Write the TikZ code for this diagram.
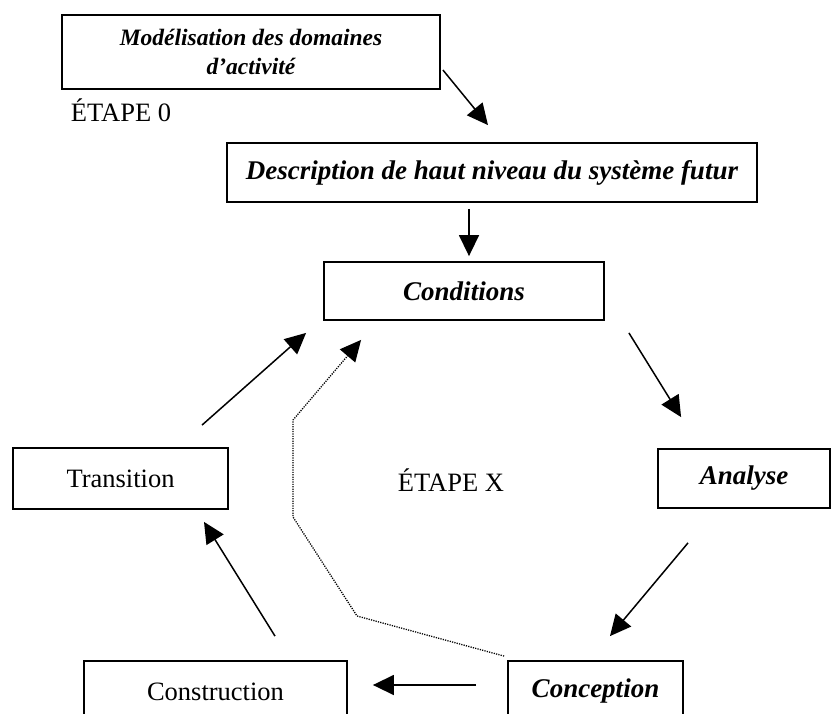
\documentclass[tikz,border=0pt]{standalone}
\usepackage{fontspec}
\setmainfont{Liberation Serif}
\usetikzlibrary{arrows.meta}
\tikzset{
  box/.style={draw, line width=1.8pt, rectangle, inner sep=0pt, align=center},
  bi/.style={font=\fontsize{27}{31}\selectfont\bfseries\itshape},
  rg/.style={font=\fontsize{26.5}{30}\selectfont},
  arr/.style={line width=1.5pt, -{Triangle[length=21pt,width=20pt]}},
  dotarr/.style={line width=1.3pt, dash pattern=on 1.2pt off 1.2pt, -{Triangle[length=21pt,width=20pt]}},
}
\begin{document}
\begin{tikzpicture}[x=1pt,y=-1pt]
\useasboundingbox (0,0) rectangle (833,714);
\begin{scope}
\clip (0,0) rectangle (833,714);
\node[box, minimum width=378pt, minimum height=74pt, font=\fontsize{23.5}{29}\selectfont\bfseries\itshape] (mod) at (251,52) {Modélisation des domaines\\d’activité};
\node[rg, anchor=center] (e0) at (121,110) {ÉTAPE 0};
\node[box, bi, minimum width=530pt, minimum height=59pt] (desc) at (492,172.5) {Description de haut niveau du système futur};
\node[box, bi, minimum width=280pt, minimum height=58pt] (cond) at (464,291) {Conditions};
\node[box, bi, minimum width=172pt, minimum height=59pt] (ana) at (744,478.5) {Analyse};
\node[box, rg, minimum width=215pt, minimum height=61pt] (trans) at (120.5,478.5) {Transition};
\node[box, rg, minimum width=263pt, minimum height=61pt] (constr) at (215.5,691.5) {Construction};
\node[box, bi, minimum width=175pt, minimum height=61pt] (concep) at (595.5,691.5) {Conception};
\node[rg] (ex) at (451,480) {ÉTAPE X};

\draw[arr] ([shift={(2,18)}]mod.east) -- ([shift={(-4,-17)}]desc.north);
\draw[arr] ([shift={(-23,6)}]desc.south) -- ([shift={(5,-5)}]cond.north);
\draw[arr] ([shift={(24,12)}]cond.south east) -- ([shift={(24,-31)}]ana.north west);
\draw[arr] ([shift={(-56,34)}]ana.south) -- ([shift={(14.5,-24)}]concep.north);
\draw[arr] ([shift={(-31,-6.5)}]concep.west) -- ([shift={(25,-6.5)}]constr.east);
\draw[arr] ([shift={(59.5,-24)}]constr.north) -- ([shift={(83.5,12)}]trans.south);
\draw[arr] ([shift={(81.5,-22)}]trans.north) -- ([shift={(-17,12)}]cond.south west);

\coordinate (d1) at (357,616);
\coordinate (d2) at (293,517);
\coordinate (d3) at (293,420);
\draw[dotarr] ([shift={(-3,-4)}]concep.north west) -- (d1) -- (d2) -- (d3) -- ([shift={(38,19)}]cond.south west);
\end{scope}
\end{tikzpicture}
\end{document}
